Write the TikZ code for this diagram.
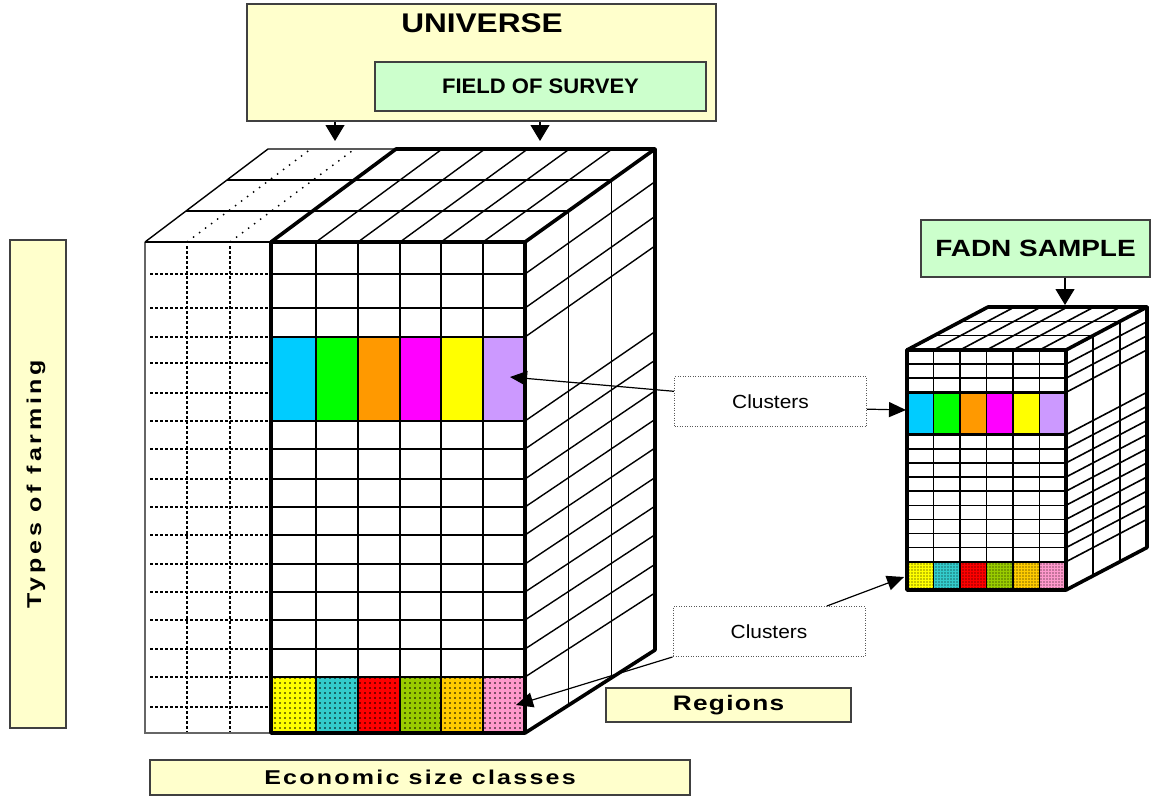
\documentclass[tikz,border=0pt]{standalone}
\usepackage{fontspec}
\usepackage{graphicx}
\setmainfont{Liberation Sans}
\newfontfamily\lsTypes[LetterSpace=15]{Liberation Sans}
\newfontfamily\lsEcon[LetterSpace=9]{Liberation Sans}
\newfontfamily\lsReg[LetterSpace=5]{Liberation Sans}
\newcommand{\stretchx}[2]{\scalebox{#1}[1]{#2}}
\usetikzlibrary{arrows.meta,calc,patterns.meta}
\definecolor{ybg}{HTML}{FFFFCC}
\definecolor{gbg}{HTML}{CCFFCC}
\definecolor{cCy}{HTML}{00CCFF}
\definecolor{cGr}{HTML}{00FF00}
\definecolor{cOr}{HTML}{FF9900}
\definecolor{cMa}{HTML}{FF00FF}
\definecolor{cYe}{HTML}{FFFF00}
\definecolor{cLa}{HTML}{CC99FF}
\definecolor{dYe}{HTML}{FFFF00}
\definecolor{dTe}{HTML}{33CCCC}
\definecolor{dRe}{HTML}{FF0000}
\definecolor{dOl}{HTML}{99CC00}
\definecolor{dGo}{HTML}{FFCC00}
\definecolor{dPi}{HTML}{FF99CC}
\begin{document}
\begin{tikzpicture}[x=1pt,y=-1pt,
  gridln/.style={line width=1.4pt},
  sgridln/.style={line width=1.6pt},
  thickln/.style={line width=3.6pt, line cap=round, line join=round},
  dashln/.style={line width=1.4pt, dash pattern=on 2.5pt off 2.5pt},
  dotln/.style={line width=1.4pt, dash pattern=on 1.5pt off 6pt},
  lbox/.style={draw=black!75, line width=1.3pt, fill=ybg, inner sep=0pt},
  gboxs/.style={draw=black!75, line width=1.3pt, fill=gbg, inner sep=0pt},
  clbox/.style={draw=black!65, line width=1pt, dash pattern=on 1pt off 1.5pt, fill=white,
     minimum width=192pt, minimum height=50pt, inner sep=0pt, font=\fontsize{19}{22}\selectfont},
  arr/.style={line width=1.2pt, -{Triangle[length=17pt,width=15pt]}},
  darr/.style={line width=1.2pt, -{Triangle[length=16pt,width=19pt]}}]
\useasboundingbox (0,0) rectangle (1156,798);
\fill[white] (0,0) rectangle (1156,798);

% ---------------- big cube ----------------
\foreach \xa/\xb/\cl in {271/316/cCy,316/358/cGr,358/400/cOr,400/441/cMa,441/483/cYe,483/525/cLa}
  \fill[\cl] (\xa,337) rectangle (\xb,421);
\foreach \xa/\xb/\cl in {271/316/dYe,316/358/dTe,358/400/dRe,400/441/dOl,441/483/dGo,483/525/dPi}{
  \fill[\cl] (\xa,677) rectangle (\xb,733);
  \fill[pattern={Dots[distance=5pt,radius=0.8pt]}, pattern color=black] (\xa,677) rectangle (\xb,733);
}
% left (dashed) part
\foreach \y in {274,308,337,363,393,421,449,479,507,535,564,592,620,649,677,707}
  \draw[dashln] (150,\y) -- (271,\y);
\foreach \x in {187,230} \draw[dashln] (\x,246) -- (\x,733);
\draw[line width=1.8pt, black!60] (145,242) -- (145,733) -- (271,733);
% main front grid
\foreach \y in {274,308,337,421,449,479,507,535,564,592,620,649,677}
  \draw[gridln] (271,\y) -- (525,\y);
\foreach \x in {316,358,400,441,483} \draw[gridln] (\x,242) -- (\x,733);
% top face
\draw[gridln] (145,242) -- (268,149) -- (396,149);
\draw[gridln] (145,242) -- (271,242);
\foreach \k in {1,2} \draw[gridln] ($(145,242)!\k/3!(268,149)$) -- ($(525,242)!\k/3!(655,149)$);
\foreach \x in {187,230} \draw[dotln] (\x,242) -- ({268+(\x-145)*1.0184},149);
\foreach \x in {316,358,400,441,483} \draw[gridln] (\x,242) -- ({268+(\x-145)*1.0184},149);
% right face
\foreach \y in {274,308,337,421,449,479,507,535,564,592,620,649,677}
  \draw[gridln] (525,\y) -- (655,{149+(\y-242)*1.0204});
\foreach \k in {1,2} \draw[gridln] ($(525,242)!\k/3!(655,149)$) -- ($(525,733)!\k/3!(655,650)$);
% thick outline
\draw[thickln] (271,242) rectangle (525,733);
\draw[thickln] (271,242) -- (396,149) -- (655,149) -- (655,650) -- (525,733);
\draw[thickln] (525,242) -- (655,149);

% ---------------- small cube ----------------
\foreach \j/\cl in {0/cCy,1/cGr,2/cOr,3/cMa,4/cYe,5/cLa}
  \fill[\cl] ({907+\j*26.5},392.35) rectangle ({933.5+\j*26.5},434.7);
\foreach \j/\cl in {0/dYe,1/dTe,2/dRe,3/dOl,4/dGo,5/dPi}{
  \fill[\cl] ({907+\j*26.5},561.8) rectangle ({933.5+\j*26.5},590);
  \fill[pattern={Dots[distance=3pt,radius=0.7pt]}, pattern color=black] ({907+\j*26.5},561.8) rectangle ({933.5+\j*26.5},590);
}
\foreach \i in {1,2,3,6,7,8,9,10,11,12,13,14,15}{
  \draw[sgridln] (907,{350+\i*14.1176}) -- (1066,{350+\i*14.1176});
  \draw[sgridln] (1066,{350+\i*14.1176}) -- (1147,{350+\i*14.1176-42.5});
}
\foreach \j in {1,...,5}{
  \draw[sgridln] ({907+\j*26.5},350) -- ({907+\j*26.5},590);
  \draw[sgridln] ({907+\j*26.5},350) -- ({988+\j*26.5},307);
}
\foreach \k in {1,2}{
  \draw[sgridln] ({907+27*\k},{350-14.33*\k}) -- ({1066+27*\k},{350-14.33*\k});
  \draw[sgridln] ({1066+27*\k},{350-14.33*\k}) -- ({1066+27*\k},{590-14.17*\k});
}
\draw[line width=2.6pt] (907,392.35) -- (1066,392.35) (907,434.7) -- (1066,434.7);
\draw[thickln] (907,350) rectangle (1066,590);
\draw[thickln] (907,350) -- (988,307) -- (1147,307) -- (1147,547.5) -- (1066,590);
\draw[thickln] (1066,350) -- (1147,307);

% ---------------- boxes ----------------
\node[lbox, minimum width=469pt, minimum height=117pt] (uni) at (481.5,62.5) {};
\node[font=\bfseries\fontsize{27}{30}\selectfont] (unitext) at (482,23) {\stretchx{1.17}{UNIVERSE}};
\node[gboxs, minimum width=331pt, minimum height=49pt, font=\bfseries\fontsize{21}{24}\selectfont] (fos) at (540.5,86.5) {\stretchx{1.05}{FIELD OF SURVEY}};
\node[gboxs, minimum width=229pt, minimum height=57pt, font=\bfseries\fontsize{23.5}{26}\selectfont] (fadn) at (1035.5,248.5) {\stretchx{1.19}{FADN SAMPLE}};
\node[lbox, minimum width=245pt, minimum height=34pt, font=\lsReg\bfseries\fontsize{21}{24}\selectfont] (reg) at (728.5,705) {\stretchx{1.25}{Regions}};
\node[lbox, minimum width=540pt, minimum height=35pt, font=\lsEcon\bfseries\fontsize{20}{22}\selectfont] (econ) at (420,777.5) {\stretchx{1.25}{Economic size classes}};
\node[lbox, minimum width=56pt, minimum height=488pt] (types) at (38,484) {};
\node[rotate=90, font=\lsTypes\bfseries\fontsize{20}{22}\selectfont] (typestext) at (36,484) {\stretchx{1.25}{Types of farming}};

\node[clbox] (cl1) at (770.5,401.5) {\stretchx{1.1}{Clusters}};
\node[clbox] (cl2) at (769,631.5) {\stretchx{1.1}{Clusters}};

% ---------------- connectors ----------------
\coordinate (u1) at (335,141);
\coordinate (u2) at (540,141);
\coordinate (f1) at (1065,305);
\draw[darr] (uni.south -| u1) -- (u1);
\draw[darr] (uni.south -| u2) -- (u2);
\draw[darr] (fadn.south -| f1) -- (f1);

\coordinate (t1) at (510,377);
\coordinate (t2) at (906,410);
\coordinate (t3) at (904,577);
\coordinate (t4) at (516,705);
\draw[arr] ($(cl1.north west)!0.3!(cl1.south west)$) -- (t1);
\draw[arr] ($(cl1.north east)!0.65!(cl1.south east)$) -- (t2);
\draw[arr] ($(cl2.north west)!0.8!(cl2.north east)$) -- (t3);
\draw[arr] (cl2.south west) -- (t4);
\end{tikzpicture}
\end{document}
